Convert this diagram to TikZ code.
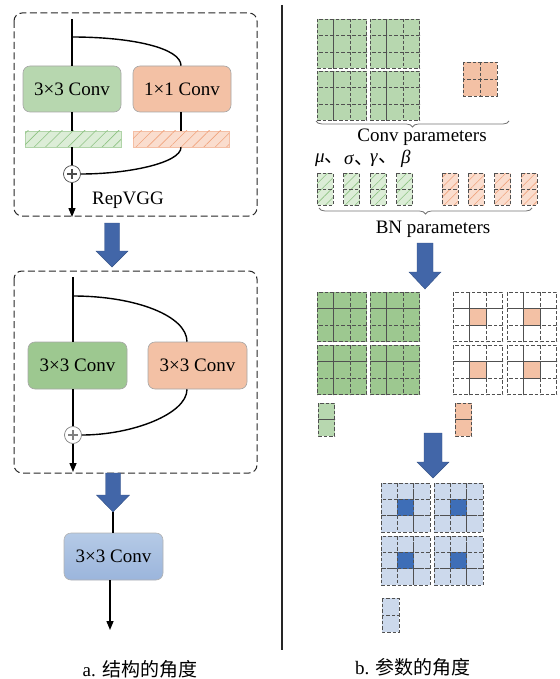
\documentclass[tikz,border=0pt]{standalone}
\usepackage{fontspec}
\setmainfont{Liberation Serif}
\newfontfamily\cjk{Noto Sans CJK SC}
\usetikzlibrary{arrows.meta,patterns.meta,decorations.pathreplacing,calc}
\definecolor{gLight}{HTML}{B7D7AF}
\definecolor{gDark}{HTML}{9DC890}
\definecolor{gHatchBg}{HTML}{DCEDD7}
\definecolor{gHatch}{HTML}{8EC283}
\definecolor{oFill}{HTML}{F3C1A5}
\definecolor{oHatchBg}{HTML}{FADDCE}
\definecolor{oHatch}{HTML}{F0A47E}
\definecolor{bArrow}{HTML}{4266A8}
\definecolor{bTop}{HTML}{B5CAE6}
\definecolor{bBot}{HTML}{9BB5DC}
\definecolor{bCell}{HTML}{CCD9EC}
\definecolor{bDark}{HTML}{3E6EB7}
\definecolor{cellLine}{HTML}{505050}
\tikzset{
  dashbox/.style={draw=black!85, line width=1pt, dash pattern=on 7pt off 3.5pt, rounded corners=8pt},
  convbox/.style={draw=black!35, line width=0.6pt, rounded corners=7pt, minimum width=98pt, minimum height=46pt, inner sep=0pt},
  flow/.style={line width=1.4pt, black},
  flowarrow/.style={flow, -{Triangle[length=9pt,width=7pt]}},
  plusnode/.style={circle, draw=black!70, line width=0.7pt, fill=white, minimum size=17pt, inner sep=0pt,
    path picture={\draw[line width=1.6pt] ($(path picture bounding box.center)+(-5,0)$) -- ($(path picture bounding box.center)+(5,0)$);
                  \draw[line width=1.6pt] ($(path picture bounding box.center)+(0,-5)$) -- ($(path picture bounding box.center)+(0,5)$);}},
  cellst/.style={draw=cellLine, line width=0.7pt, dash pattern=on 3.5pt off 2pt},
  hatchbar/.style={draw=none, inner sep=0pt},
  barrow/.style={fill=bArrow, draw=bArrow!80!black, line width=0.4pt},
  bracest/.style={draw=black!55, line width=0.8pt, decorate, decoration={brace, mirror, amplitude=6pt}},
  lbl/.style={inner sep=0pt}
}
\newcommand\cellgrid[6]{%
  \foreach \ci in {1,...,#3}{\foreach \cj in {1,...,#4}{
    \draw[cellst, fill=#6] ({#1+(\ci-1)*#5},{#2+(\cj-1)*#5}) rectangle ++(#5,#5);}}}
\newcommand\bnbar[5]{% x y size bg hatch
  \foreach \cj in {1,2}{
    \path[fill=#4] ({#1},{#2+(\cj-1)*#3}) rectangle ++(#3,#3);
    \path[pattern={Lines[angle=45,distance=7pt,line width=0.6pt]}, pattern color=#5] ({#1},{#2+(\cj-1)*#3}) rectangle ++(#3,#3);
    \draw[cellst] ({#1},{#2+(\cj-1)*#3}) rectangle ++(#3,#3);}}
\newcommand\bigarrow[6]{% cx ytop yhead ytip shafthalf headhalf
  \draw[barrow] ({#1-#5},#2) -- ({#1+#5},#2) -- ({#1+#5},#3) -- ({#1+#6},#3) -- (#1,#4) -- ({#1-#6},#3) -- ({#1-#5},#3) -- cycle;}
\begin{document}
\begin{tikzpicture}[x=1pt,y=-1pt,font=\fontsize{19}{22}\selectfont]
\useasboundingbox (0,0) rectangle (559,679);
% ===== Left panel =====
% Box 1
\draw[dashbox] (14,13) rectangle (257,216);
\coordinate (in1) at (72,19);
\coordinate (br1) at (72,37);
\coordinate (out1) at (72,217);
\node[convbox, fill=gLight] (c1a) at (72,89) {3×3 Conv};
\node[convbox, fill=oFill] (c1b) at (182,89) {1×1 Conv};
\node[hatchbar, minimum width=96pt, minimum height=16pt, fill=gHatchBg, draw=gHatch!70, line width=0.5pt,
  postaction={pattern={Lines[angle=45,distance=8pt,line width=0.6pt]}, pattern color=gHatch}] (bn1a) at (73,139) {};
\node[hatchbar, minimum width=96pt, minimum height=16pt, fill=oHatchBg, draw=oHatch!70, line width=0.5pt,
  postaction={pattern={Lines[angle=45,distance=8pt,line width=0.6pt]}, pattern color=oHatch}] (bn1b) at (181,139) {};
\node[plusnode] (plus1) at (72,174) {};
\draw[flow] (in1) -- (c1a.north -| in1);
\draw[flow] (c1a.south -| in1) -- (bn1a.north -| in1);
\draw[flow] (bn1a.south -| in1) -- (plus1.north);
\draw[flowarrow] (plus1.south) -- (out1);
\draw[flow] (br1) .. controls (132,37) and (181,48) .. (c1b.north -| bn1b);
\draw[flow] (c1b.south -| bn1b) -- (bn1b.north);
\draw[flow] (bn1b.south) .. controls (181,163) and (128,174) .. (plus1.east);
\node[lbl] (rep) at (128,200) {RepVGG};
% Arrow 1
\bigarrow{112}{223}{251}{267}{7.5}{16}
% Box 2
\draw[dashbox] (14,271) rectangle (257,473);
\coordinate (in2) at (73,277);
\coordinate (br2) at (73,296);
\coordinate (out2) at (73,472);
\coordinate (r2) at (187,340);
\node[convbox, fill=gDark, minimum width=99pt, minimum height=47pt] (c2a) at (77.5,365.5) {3×3 Conv};
\node[convbox, fill=oFill, minimum width=99pt, minimum height=47pt] (c2b) at (197.5,365.5) {3×3 Conv};
\node[plusnode, draw=black!50] (plus2) at (73,435) {};
\draw[flow] (in2) -- (c2a.north -| in2);
\draw[flow] (c2a.south -| in2) -- (plus2.north);
\draw[flowarrow] (plus2.south) -- (out2);
\draw[flow] (br2) .. controls (136,296) and (187,316) .. (c2b.north -| r2);
\draw[flow] (c2b.south -| r2) .. controls (187,414) and (132,435) .. (plus2.east);
% Arrow 2
\bigarrow{113}{473}{495}{512}{7.5}{16.5}
\coordinate (tip2) at (113,512);
\node[convbox, top color=bTop, bottom color=bBot, draw=black!30, minimum width=99pt, minimum height=47pt] (c3) at (113.5,556.5) {3×3 Conv};
\coordinate (out3) at (110,630);
\draw[flow] (tip2) -- (c3.north -| tip2);
\draw[flowarrow] (c3.south -| out3) -- (out3);
\node[lbl] (capA) at (140,669) {a. {\cjk 结构的角度}};
% Divider
\coordinate (dv1) at (282,5);
\coordinate (dv2) at (282,650);
\draw[line width=1.3pt, black!85] (dv1) -- (dv2);
% ===== Right panel =====
% Conv parameters
\cellgrid{317}{19}{3}{3}{16.5}{gLight}
\cellgrid{370}{19}{3}{3}{16.5}{gLight}
\cellgrid{317}{71}{3}{3}{16.5}{gLight}
\cellgrid{370}{71}{3}{3}{16.5}{gLight}
\cellgrid{463}{62}{2}{2}{17}{oFill}
\coordinate (b1l) at (316,121);
\coordinate (b1r) at (509,121);
\draw[bracest] (b1l) -- (b1r);
\node[lbl] (convp) at (422,137) {Conv parameters};
% BN parameters
\node[lbl, anchor=west] (mu) at (315,160) {\textit{μ}\cjk{、}};
\node[lbl, anchor=west] (sg) at (344,160) {\textit{σ}\cjk{、}};
\node[lbl, anchor=west] (gm) at (370,160) {\textit{γ}\cjk{、}};
\node[lbl, anchor=west] (bt) at (401,159) {\textit{β}};
\bnbar{317}{173}{16}{gHatchBg}{gHatch}
\bnbar{343.5}{173}{16}{gHatchBg}{gHatch}
\bnbar{370}{173}{16}{gHatchBg}{gHatch}
\bnbar{396.5}{173}{16}{gHatchBg}{gHatch}
\bnbar{442}{173}{16}{oHatchBg}{oHatch}
\bnbar{468}{173}{16}{oHatchBg}{oHatch}
\bnbar{494.5}{173}{16}{oHatchBg}{oHatch}
\bnbar{521}{173}{16}{oHatchBg}{oHatch}
\coordinate (b2l) at (319,208);
\coordinate (b2r) at (532,208);
\draw[bracest] (b2l) -- (b2r);
\node[lbl] (bnp) at (433,229) {BN parameters};
% Arrow 3
\bigarrow{425}{243}{272}{289}{8}{16}
% Fused per branch
\cellgrid{317}{292}{3}{3}{16.5}{gDark}
\cellgrid{370}{292}{3}{3}{16.5}{gDark}
\cellgrid{317}{345}{3}{3}{16.5}{gDark}
\cellgrid{370}{345}{3}{3}{16.5}{gDark}
\cellgrid{318}{403}{1}{2}{16.5}{gLight}
\foreach \gx/\gy in {453/292,507/292,453/345,507/345}{
  \cellgrid{\gx}{\gy}{3}{3}{16.5}{white}
  \draw[cellst, fill=oFill] ({\gx+16.5},{\gy+16.5}) rectangle ++(16.5,16.5);
}
\cellgrid{455}{403}{1}{2}{16.5}{oFill}
% Arrow 4
\bigarrow{433}{433}{462}{478}{9}{16}
% Final
\foreach \gx/\gy in {381/483,434/483,381/536,434/536}{
  \cellgrid{\gx}{\gy}{3}{3}{16.4}{bCell}
  \draw[cellst, fill=bDark] ({\gx+16.4},{\gy+16.4}) rectangle ++(16.4,16.4);
}
\cellgrid{382}{598}{1}{2}{17}{bCell}
\node[lbl] (capB) at (413,667) {b. {\cjk 参数的角度}};
\end{tikzpicture}
\end{document}
